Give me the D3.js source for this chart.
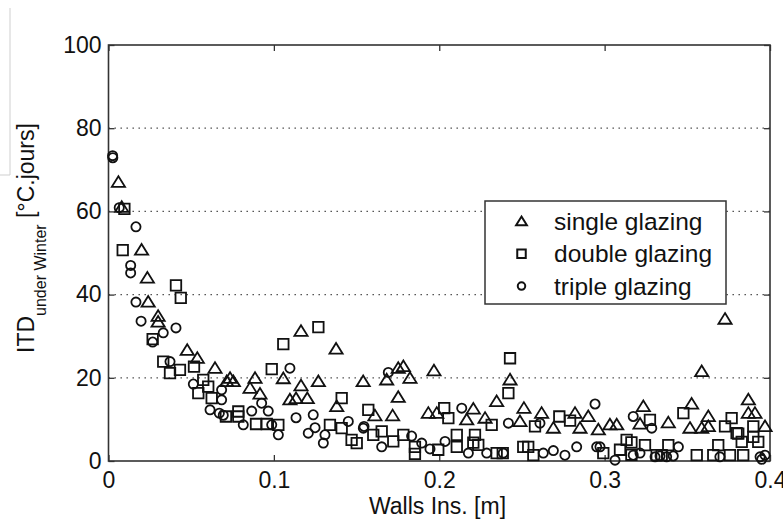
<!DOCTYPE html>
<html>
<head>
<meta charset="utf-8">
<script src="https://cdn.jsdelivr.net/npm/d3@7"></script>
<style>
  body { margin: 0; background: #fff; }
  svg { display: block; font-family: "Liberation Sans", Arial, Helvetica, sans-serif; }
</style>
</head>
<body>
<svg id="chart" width="783" height="527"></svg>
<script>
// Insulation thickness of walls [m] vs. ITD under winter [°C.jours]
const singleGlazing = [
  [0.006,67],[0.008,61],[0.020,50.7],[0.0235,44],[0.024,38.2],[0.030,34.8],[0.030,33.4],
  [0.0476,26.6],[0.0537,24.7],[0.0644,22.3],[0.0715,19.1],[0.0735,19.9],[0.0755,19.1],
  [0.0856,17.5],[0.0886,19.9],[0.0916,16.1],[0.1057,19.8],[0.1164,31.2],[0.1376,26.9],
  [0.1164,18.1],[0.1269,19.1],[0.154,19.1],[0.1097,14.7],[0.1134,15],[0.1202,15],[0.138,13.1],
  [0.1682,19.5],[0.1752,22.3],[0.1783,22.7],[0.1823,19.9],[0.1968,21.7],[0.1752,15.3],
  [0.1611,10.9],[0.1718,10.9],[0.1934,11.5],[0.1985,11.5],[0.2206,12.5],[0.2166,9.9],
  [0.2277,10.3],[0.2347,14.3],[0.2428,19.5],[0.2488,9.5],[0.2512,12.7],[0.2619,11.5],
  [0.269,7.9],[0.2821,11.5],[0.2901,10.7],[0.2851,7.9],[0.2962,7.5],[0.3032,8.7],[0.3073,8.7],
  [0.3728,34.1],[0.3587,21.5],[0.3234,13.1],[0.3214,8.9],[0.3385,9.2],[0.3526,13.7],
  [0.3516,7.9],[0.3587,7.9],[0.3627,10.7],[0.3627,8.3],[0.3869,14.7],[0.3869,11.5],
  [0.3909,11.5],[0.397,8.3]
];
const doubleGlazing = [
  [0.0096,60.6],[0.0086,50.7],[0.0408,42.2],[0.0437,39.2],[0.0267,29.3],[0.0331,23.9],
  [0.0372,21.1],[0.0432,21.9],[0.0517,22.7],[0.0573,19.5],[0.0543,16.3],[0.0603,17.9],
  [0.0624,15.1],[0.071,10.7],[0.0785,11.9],[0.0785,10.7],[0.0892,8.9],[0.0957,8.9],
  [0.1027,8.7],[0.0987,22.1],[0.1057,28.1],[0.1269,32.2],[0.141,15.1],[0.1339,8.7],
  [0.141,7.9],[0.147,5.1],[0.1501,4.3],[0.1571,12.3],[0.1601,6.3],[0.1652,7.1],[0.1722,4.7],
  [0.1783,6.3],[0.1853,3.4],[0.1853,1.7],[0.1994,2.7],[0.203,12.7],[0.2055,10.3],[0.2317,8.7],
  [0.2106,6.3],[0.2106,3.4],[0.2216,6.3],[0.2206,4.4],[0.2236,3.9],[0.2347,1.9],[0.2384,1.9],
  [0.2418,16.3],[0.2428,24.7],[0.2579,8.3],[0.2726,10.7],[0.2791,9.7],[0.2508,3.4],
  [0.2538,3.4],[0.2569,1.4],[0.2992,1.9],[0.3093,2.7],[0.3133,5.1],[0.3274,9.9],[0.3476,11.5],
  [0.3768,10.3],[0.3728,8.3],[0.3798,6.7],[0.3899,8.3],[0.3244,3.8],[0.3385,3.8],[0.3315,1.4],
  [0.3345,1.4],[0.3557,1.4],[0.3687,3.8],[0.3657,1.4],[0.3758,1.4],[0.3829,4.6],[0.3929,4.6],
  [0.3162,4.5],[0.3162,1.5],[0.3808,6.6],[0.3899,5.8],[0.3838,1.4]
];
const tripleGlazing = [
  [0.0025,73.4],[0.0026,72.9],[0.0065,60.9],[0.0166,56.3],[0.0134,47],[0.0134,45.2],
  [0.0166,38.2],[0.0197,33.6],[0.0408,32],[0.0331,30.8],[0.0267,28.6],[0.0372,23.9],
  [0.0513,18.5],[0.0684,17.1],[0.0614,12.3],[0.067,11.5],[0.0684,14.7],[0.0926,13.9],
  [0.0866,12],[0.0815,8.7],[0.0966,12],[0.0987,8.7],[0.1027,6.3],[0.0694,11],[0.1097,22.3],
  [0.1134,10.4],[0.1238,11.1],[0.1208,6.7],[0.1249,8],[0.1299,4.3],[0.1309,6.3],[0.145,9.5],
  [0.1541,7.9],[0.1692,21.3],[0.1545,8.3],[0.1652,3.4],[0.1833,6],[0.1894,4.3],[0.1944,2.9],
  [0.2136,12.7],[0.2035,4.7],[0.2176,1.9],[0.2287,1.9],[0.2418,9.1],[0.2387,1.9],[0.2609,9.1],
  [0.2629,1.9],[0.269,2.5],[0.276,1.4],[0.2831,3.4],[0.2942,13.7],[0.2952,3.4],[0.2972,3.4],
  [0.3063,0.2],[0.3173,10.7],[0.3285,7.9],[0.3173,1.4],[0.3214,1.9],[0.3305,1],[0.3335,1.2],
  [0.3375,1],[0.3415,1.2],[0.3446,3.4],[0.3697,1],[0.394,1],[0.397,1.4],[0.395,0.4]
];
const seriesNames = ["single glazing", "double glazing", "triple glazing"];
const xTicks = [0, 0.1, 0.2, 0.3, 0.4];
const yTicks = [0, 20, 40, 60, 80, 100];
const gridValues = [20, 40, 60, 80];

const svg = d3.select("#chart");
const m = { left: 108.5, right: 770, top: 45, bottom: 461 };
const ink = "#111";

const x = d3.scaleLinear().domain([0, 0.4]).range([m.left, m.right]);
const y = d3.scaleLinear().domain([0, 100]).range([m.bottom, m.top]);

// thin page edge line at the top-left
svg.append("path").attr("d", "M10,8V175H0").attr("fill", "none")
  .attr("stroke", "#cfcfcf").attr("stroke-width", 1);

// dotted horizontal grid
svg.append("g").selectAll("line").data(gridValues).join("line")
  .attr("x1", m.left).attr("x2", m.right)
  .attr("y1", d => y(d)).attr("y2", d => y(d))
  .attr("stroke", "#444").attr("stroke-width", 1.2)
  .attr("stroke-dasharray", "1.4,4.6");

// axes with inward ticks on all four sides
const fmtX = d3.format("~g");
const gx = svg.append("g").attr("transform", `translate(0,${m.bottom})`)
  .call(d3.axisBottom(x).tickValues(xTicks).tickFormat(fmtX).tickSize(-6).tickPadding(11));
const gy = svg.append("g").attr("transform", `translate(${m.left},0)`)
  .call(d3.axisLeft(y).tickValues(yTicks).tickSize(-6).tickPadding(7));
const gt = svg.append("g").attr("transform", `translate(0,${m.top})`)
  .call(d3.axisTop(x).tickValues(xTicks).tickFormat("").tickSize(-6));
const gr = svg.append("g").attr("transform", `translate(${m.right},0)`)
  .call(d3.axisRight(y).tickValues(yTicks).tickFormat("").tickSize(-6));
[gx, gy, gt, gr].forEach(g => {
  g.select(".domain").remove();
  g.selectAll(".tick line").attr("stroke", "#333").attr("stroke-width", 1.3);
  g.selectAll(".tick text").attr("font-size", 23).attr("fill", ink)
    .attr("font-family", "Liberation Sans, Arial, sans-serif");
});

// plot frame
svg.append("rect").attr("x", m.left).attr("y", m.top)
  .attr("width", m.right - m.left).attr("height", m.bottom - m.top)
  .attr("fill", "none").attr("stroke", "#333").attr("stroke-width", 1.6);

// marker shapes
const shapes = {
  triangle: s => `M0,${-0.55 * s}L${0.6 * s},${0.42 * s}L${-0.6 * s},${0.42 * s}Z`,
  square: s => `M${-s / 2},${-s / 2}h${s}v${s}h${-s}Z`,
  circle: s => `M${s / 2},0A${s / 2},${s / 2} 0 1 1 ${-s / 2},0A${s / 2},${s / 2} 0 1 1 ${s / 2},0Z`
};
const series = [
  { data: singleGlazing, shape: "triangle", size: 11 },
  { data: doubleGlazing, shape: "square", size: 10.5 },
  { data: tripleGlazing, shape: "circle", size: 9.2 }
];

series.forEach(sr => {
  svg.append("g").selectAll("path").data(sr.data).join("path")
    .attr("transform", d => `translate(${x(d[0])},${y(d[1])})`)
    .attr("d", shapes[sr.shape](sr.size))
    .attr("fill", "none").attr("stroke", ink).attr("stroke-width", 1.8);
});

// legend
const lg = svg.append("g");
lg.append("rect").attr("x", 485).attr("y", 201).attr("width", 241).attr("height", 103)
  .attr("fill", "#fff").attr("stroke", "#333").attr("stroke-width", 1.5);
const legendSizes = [9, 8.5, 7.5];
seriesNames.forEach((name, i) => {
  const cy = 221.5 + i * 32.3;
  lg.append("path").attr("transform", `translate(521.5,${cy})`)
    .attr("d", shapes[series[i].shape](legendSizes[i]))
    .attr("fill", "none").attr("stroke", ink).attr("stroke-width", 2);
  lg.append("text").attr("x", 554).attr("y", cy + 8.5)
    .attr("font-size", 24.5).attr("fill", ink).text(name);
});

// axis titles
svg.append("text").attr("x", 437.5).attr("y", 514).attr("text-anchor", "middle")
  .attr("font-size", 23).attr("fill", ink).text("Walls Ins. [m]");

const yt = svg.append("text").attr("transform", "translate(33.5,353) rotate(-90)")
  .attr("font-size", 23).attr("fill", ink);
yt.append("tspan").text("ITD");
yt.append("tspan").attr("font-size", 16).attr("dy", 12).text("under Winter");
yt.append("tspan").attr("dy", -12).text(" [°C.jours]");
</script>
</body>
</html>
